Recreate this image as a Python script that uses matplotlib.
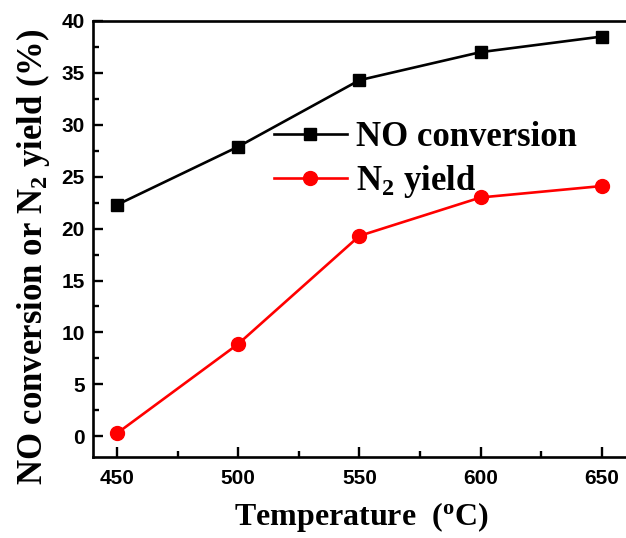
import matplotlib
matplotlib.use('Agg')
import matplotlib.pyplot as plt
from matplotlib.ticker import MultipleLocator

temperature = [450, 500, 550, 600, 650]
no_conversion = [22.3, 27.9, 34.3, 37.0, 38.5]
n2_yield = [0.3, 8.9, 19.3, 23.0, 24.1]

plt.rcParams['mathtext.default'] = 'regular'

fig = plt.figure(figsize=(6.26, 5.38), dpi=100)
ax = fig.add_axes([93 / 626, 81 / 538, 545 / 626, 436 / 538])

ax.plot(temperature, no_conversion, color='black', marker='s', markersize=9,
        linewidth=1.9, label='NO conversion')
ax.plot(temperature, n2_yield, color='red', marker='o', markersize=10,
        linewidth=1.9, label='N$_2$ yield')

ax.set_xlim(440, 665)
ax.set_ylim(-2, 40)
ax.xaxis.set_major_locator(MultipleLocator(50))
ax.xaxis.set_minor_locator(MultipleLocator(25))
ax.yaxis.set_major_locator(MultipleLocator(5))
ax.yaxis.set_minor_locator(MultipleLocator(2.5))
ax.tick_params(which='both', direction='in', width=1.7, top=False, right=False)
ax.tick_params(which='major', length=7, labelsize=15)
ax.tick_params(axis='x', which='major', pad=9)
ax.tick_params(axis='y', which='major', pad=6)
ax.tick_params(which='minor', length=4)
for s in ax.spines.values():
    s.set_linewidth(1.9)
ax.spines['right'].set_visible(False)

for lab in ax.get_xticklabels() + ax.get_yticklabels():
    lab.set_fontfamily('Liberation Sans')
    lab.set_fontweight('bold')

ax.set_xlabel('Temperature  ($^{o}$C)', fontfamily='Liberation Serif',
              fontweight='bold', fontsize=23)
ax.set_ylabel('NO conversion or N$_2$ yield (%)', fontfamily='Liberation Serif',
              fontweight='bold', fontsize=25)
ax.xaxis.set_label_coords(0.492, -0.098)
ax.yaxis.set_label_coords(-0.076, 0.459)

leg = ax.legend(loc='upper left', bbox_to_anchor=(0.332, 0.77), frameon=False,
                prop={'family': 'Liberation Serif', 'weight': 'bold', 'size': 25},
                handlelength=2.1, handletextpad=0.25, labelspacing=0.25,
                borderpad=0, borderaxespad=0)

fig.savefig('out.png', dpi=100)
